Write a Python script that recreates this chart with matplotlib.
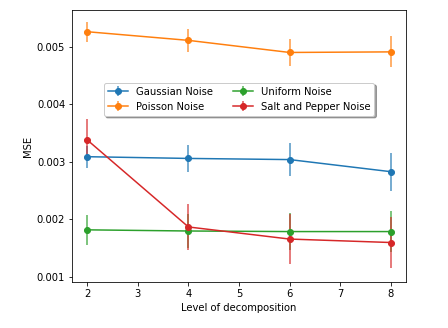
import matplotlib
matplotlib.use("Agg")
import matplotlib.pyplot as plt
import numpy as np

levels = [2, 4, 6, 8]

gaussian = [0.00309, 0.00306, 0.00304, 0.00283]
gaussian_err = [0.00019, 0.00023, 0.00028, 0.00033]

poisson = [0.00526, 0.00511, 0.00490, 0.00491]
poisson_err = [0.00017, 0.00020, 0.00024, 0.00027]

uniform = [0.00182, 0.00180, 0.00179, 0.00179]
uniform_err = [0.00026, 0.00030, 0.00032, 0.00036]

salt_pepper = [0.00338, 0.00187, 0.00166, 0.00160]
salt_pepper_err = [0.00036, 0.00040, 0.00044, 0.00045]

fig = plt.figure(figsize=(448 / 72, 328 / 72), dpi=72)
ax = fig.add_axes([0.161, 0.14, 0.745, 0.83])

series = [
    ("Gaussian Noise", gaussian, gaussian_err, "tab:blue"),
    ("Poisson Noise", poisson, poisson_err, "tab:orange"),
    ("Uniform Noise", uniform, uniform_err, "tab:green"),
    ("Salt and Pepper Noise", salt_pepper, salt_pepper_err, "tab:red"),
]
for name, vals, err, c in series:
    eb = ax.errorbar(levels, vals, yerr=err, marker="o", color=c, label=name,
                     ecolor=c, elinewidth=1.5)
    eb[2][0].set_alpha(0.8)

ax.set_ylim(0.000913, 0.00564)
ax.set_xlabel("Level of decomposition")
ax.set_ylabel("MSE")
ax.legend(ncol=2, shadow=True, loc="upper left", bbox_to_anchor=(0.08, 0.75))

fig.savefig("out.png", dpi=72)
